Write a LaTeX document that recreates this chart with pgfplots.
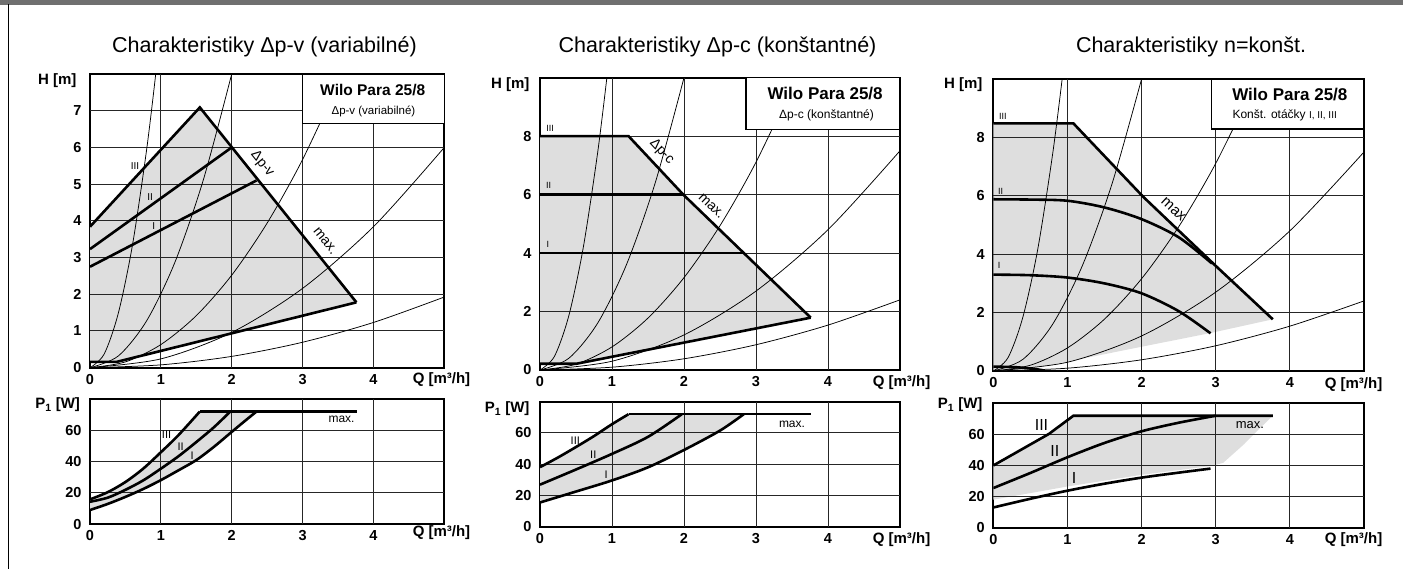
\documentclass[border=0pt]{standalone}
\usepackage{fontspec}
\setmainfont{Liberation Sans}
\usepackage{pgfplots}
\pgfplotsset{compat=1.18}
\definecolor{fillg}{RGB}{222,222,222}
\definecolor{band}{RGB}{112,112,112}
\pgfplotsset{
  base/.style={
    scale only axis, clip mode=individual,
    xmin=0, xmax=5, xtick={0,...,4}, xticklabels={0,1,2,3,4},
    axis line style={line width=1.8pt},
    major tick length=0pt,
    ticklabel style={font=\fontsize{14.5}{15}\selectfont\bfseries},
    yticklabel style={anchor=east, xshift=-5pt},
    xticklabel style={anchor=north, yshift=-3pt},
  },
  sysc/.style={line width=0.75pt, black, smooth},
  thk/.style={line width=2.6pt, black},
  thks/.style={line width=2.6pt, black, smooth},
  fl/.style={fill=fillg, draw=none},
}
\tikzset{gr/.style={line width=1pt, black!85}}
\newcommand{\lab}{\fontsize{15}{15}\selectfont\bfseries}
\newcommand{\vgrid}[1]{\pgfplotsinvokeforeach{1,2,3,4}{\draw[gr] (axis cs:##1,0) -- (axis cs:##1,#1);}}
\begin{document}
\begin{tikzpicture}[x=1pt,y=1pt]
\path[use as bounding box] (0,0) rectangle (1403,569);
\fill[band] (0,564) rectangle (1403,569);
\draw[line width=1pt] (8,0) -- (8,564.5);

% ---------- Panel 1 H ----------
\begin{axis}[base, at={(90pt,201.3pt)}, anchor=south west, width=354.3pt, height=293.7pt,
  ymin=0, ymax=8, ytick={0,...,7}, yticklabels={0,1,2,3,4,5,6,7}]
\addplot[fl] coordinates {(0,0.16)(0,3.84)(1.55,7.09)(3.76,1.78)(0.38,0.16)(0,0.16)};
\vgrid{8}
\pgfplotsinvokeforeach{1,...,7}{\draw[gr] (axis cs:0,#1) -- (axis cs:5,#1);}
\addplot[sysc] coordinates {(0,0)(0.2,0.372)(0.4,1.488)(0.6,3.348)(0.8,5.952)(0.93,8.04)};
\addplot[sysc] coordinates {(0,0)(0.4,0.32)(0.8,1.28)(1.2,2.88)(1.6,5.12)(2.0,8.0)};
\addplot[sysc] coordinates {(0,0)(0.5,0.1575)(1,0.63)(1.5,1.4175)(2,2.52)(2.5,3.94)(3,5.67)(3.56,7.98)};
\addplot[sysc] coordinates {(0,0)(1,0.24)(2,0.96)(3,2.16)(4,3.84)(5,6.0)};
\addplot[sysc] coordinates {(0,0)(1,0.077)(2,0.308)(3,0.693)(4,1.232)(5,1.925)};
\addplot[thk] coordinates {(0,0.16)(0.38,0.16)(3.76,1.78)};
\addplot[thk] coordinates {(0,3.84)(1.55,7.09)(3.76,1.78)};
\addplot[thk] coordinates {(0,3.23)(2,6)};
\addplot[thk] coordinates {(0,2.75)(2.35,5.1)};
\draw[fill=white, line width=1.3pt] (axis cs:3,6.66) rectangle (axis cs:5,8);
\node[font=\fontsize{15.5}{16}\selectfont\bfseries] at (axis cs:3.99,7.56) {Wilo Para 25/8};
\node[font=\fontsize{11.5}{12}\selectfont] at (axis cs:4.0,6.99) {Δp-v (variabilné)};
\node[font=\fontsize{10}{10}\selectfont] at (axis cs:0.635,5.49) {III};
\node[font=\fontsize{10}{10}\selectfont] at (axis cs:0.85,4.66) {II};
\node[font=\fontsize{10}{10}\selectfont] at (axis cs:0.9,3.86) {I};
\node[font=\fontsize{14}{14}\selectfont, rotate=-51] at (axis cs:2.43,5.55) {Δp-v};
\node[font=\fontsize{14}{14}\selectfont, rotate=-51] at (axis cs:3.32,3.45) {max.};
\end{axis}

% ---------- Panel 1 P ----------
\begin{axis}[base, at={(90pt,44.7pt)}, anchor=south west, width=354.3pt, height=125.3pt,
  ymin=0, ymax=80, ytick={0,20,40,60}, yticklabels={0,20,40,60}]
\addplot[fl] coordinates {(0,15.9)(0.25,20.5)(0.5,27)(0.75,35.5)(1,46)(1.25,57)(1.55,72)(2.35,72)(2.2,66.5)(2,59)(1.75,49.5)(1.5,41)(1.25,34.5)(1,28.2)(0.75,22.5)(0.5,17.5)(0.25,13)(0,9.1)};
\vgrid{80}
\pgfplotsinvokeforeach{20,40,60}{\draw[gr] (axis cs:0,#1) -- (axis cs:5,#1);}
\addplot[thks] coordinates {(0,15.9)(0.25,20.5)(0.5,27)(0.75,35.5)(1,46)(1.25,57)(1.55,72)};
\addplot[thks] coordinates {(0,14.4)(0.25,17)(0.5,22)(0.75,28)(1,35.5)(1.25,43.5)(1.5,52.5)(1.75,62)(1.98,72)};
\addplot[thks] coordinates {(0,9.1)(0.25,13)(0.5,17.5)(0.75,22.5)(1,28.2)(1.25,34.5)(1.5,41)(1.75,49.5)(2,59)(2.2,66.5)(2.35,72)};
\addplot[thk] coordinates {(1.55,72)(3.77,72)};
\node[font=\fontsize{11}{11}\selectfont] at (axis cs:1.08,57) {III};
\node[font=\fontsize{11}{11}\selectfont] at (axis cs:1.28,49.4) {II};
\node[font=\fontsize{11}{11}\selectfont] at (axis cs:1.44,44) {I};
\node[font=\fontsize{12}{12}\selectfont] at (axis cs:3.55,66.9) {max.};
\end{axis}

% ---------- Panel 2 H ----------
\begin{axis}[base, at={(540pt,199pt)}, anchor=south west, width=360pt, height=292.3pt,
  ymin=0, ymax=10, ytick={0,2,4,6,8}, yticklabels={0,2,4,6,8}]
\addplot[fl] coordinates {(0,0.215)(0,8)(1.23,8)(1.99,6)(3.76,1.79)(0.51,0.215)(0,0.215)};
\vgrid{10}
\pgfplotsinvokeforeach{2,4,6,8}{\draw[gr] (axis cs:0,#1) -- (axis cs:5,#1);}
\addplot[sysc] coordinates {(0,0)(0.2,0.464)(0.4,1.856)(0.6,4.176)(0.8,7.424)(0.93,10.03)};
\addplot[sysc] coordinates {(0,0)(0.4,0.4)(0.8,1.6)(1.2,3.6)(1.6,6.4)(2.0,10.0)};
\addplot[sysc] coordinates {(0,0)(0.5,0.1975)(1,0.79)(1.5,1.7775)(2,3.16)(2.5,4.9375)(3,7.11)(3.56,10.01)};
\addplot[sysc] coordinates {(0,0)(1,0.3)(2,1.2)(3,2.7)(4,4.8)(5,7.5)};
\addplot[sysc] coordinates {(0,0)(1,0.096)(2,0.384)(3,0.864)(4,1.536)(5,2.4)};
\addplot[thk] coordinates {(0,8)(1.23,8)(1.99,6)(3.76,1.79)};
\addplot[thk] coordinates {(0,6)(1.99,6)};
\addplot[thk] coordinates {(0,4)(2.83,4)};
\addplot[thk] coordinates {(0,0.215)(0.51,0.215)(3.76,1.79)};
\draw[fill=white, line width=1.3pt] (axis cs:2.86,8.23) rectangle (axis cs:5,10);
\node[font=\fontsize{17}{17}\selectfont\bfseries] at (axis cs:3.96,9.47) {Wilo Para 25/8};
\node[font=\fontsize{12}{12}\selectfont] at (axis cs:3.98,8.72) {Δp-c (konštantné)};
\node[font=\fontsize{9}{9}\selectfont] at (axis cs:0.14,8.25) {III};
\node[font=\fontsize{9}{9}\selectfont] at (axis cs:0.12,6.3) {II};
\node[font=\fontsize{9}{9}\selectfont] at (axis cs:0.11,4.3) {I};
\node[font=\fontsize{14}{14}\selectfont, rotate=-47] at (axis cs:1.69,7.47) {Δp-c};
\node[font=\fontsize{14}{14}\selectfont, rotate=-44] at (axis cs:2.38,5.6) {max.};
\end{axis}

% ---------- Panel 2 P ----------
\begin{axis}[base, at={(540pt,42.3pt)}, anchor=south west, width=360pt, height=125pt,
  ymin=0, ymax=80, ytick={0,20,40,60}, yticklabels={0,20,40,60}]
\addplot[fl] coordinates {(0,38.1)(0.25,44.3)(0.5,51)(0.75,58)(1,65.6)(1.23,72)(2.83,72)(2.5,61.5)(2,49.1)(1.5,38)(1,29.6)(0.5,22.5)(0,15.5)};
\vgrid{80}
\pgfplotsinvokeforeach{20,40,60}{\draw[gr] (axis cs:0,#1) -- (axis cs:5,#1);}
\addplot[thks] coordinates {(0,38.1)(0.25,44.3)(0.5,51)(0.75,58)(1,65.6)(1.23,72)};
\addplot[thks] coordinates {(0,26.9)(0.5,36.6)(1,46.6)(1.5,57.5)(1.97,72)};
\addplot[thks] coordinates {(0,15.5)(0.5,22.5)(1,29.6)(1.5,38)(2,49.1)(2.5,61.5)(2.83,72)};
\addplot[thk] coordinates {(1.23,72)(3.77,72)};
\node[font=\fontsize{11}{11}\selectfont] at (axis cs:0.49,55) {III};
\node[font=\fontsize{11}{11}\selectfont] at (axis cs:0.74,46) {II};
\node[font=\fontsize{11}{11}\selectfont] at (axis cs:0.92,33.5) {I};
\node[font=\fontsize{12}{12}\selectfont] at (axis cs:3.5,65.7) {max.};
\end{axis}

% ---------- Panel 3 H ----------
\begin{axis}[base, at={(993.3pt,198pt)}, anchor=south west, width=370.7pt, height=292pt,
  ymin=0, ymax=10, ytick={0,2,4,6,8}, yticklabels={0,2,4,6,8}]
\addplot[fl] coordinates {(0,0)(0,8.48)(1.08,8.48)(2.02,5.97)(3.0,3.6)(3.77,1.77)(2.93,1.3)(2,0.83)(1,0.32)(0.4,0.05)(0,0)};
\vgrid{10}
\pgfplotsinvokeforeach{2,4,6,8}{\draw[gr] (axis cs:0,#1) -- (axis cs:5,#1);}
\addplot[sysc] coordinates {(0,0)(0.2,0.464)(0.4,1.856)(0.6,4.176)(0.8,7.424)(0.93,10.03)};
\addplot[sysc] coordinates {(0,0)(0.4,0.4)(0.8,1.6)(1.2,3.6)(1.6,6.4)(2.0,10.0)};
\addplot[sysc] coordinates {(0,0)(0.5,0.1975)(1,0.79)(1.5,1.7775)(2,3.16)(2.5,4.9375)(3,7.11)(3.56,10.01)};
\addplot[sysc] coordinates {(0,0)(1,0.3)(2,1.2)(3,2.7)(4,4.8)(5,7.5)};
\addplot[sysc] coordinates {(0,0)(1,0.096)(2,0.384)(3,0.864)(4,1.536)(5,2.4)};
\addplot[thk] coordinates {(0,8.48)(1.08,8.48)(2.02,5.97)(3.0,3.6)(3.77,1.77)};
\addplot[thks] coordinates {(0,5.88)(0.5,5.87)(1,5.83)(1.5,5.6)(2,5.2)(2.5,4.58)(2.95,3.68)};
\addplot[thks] coordinates {(0,3.3)(0.5,3.28)(1,3.2)(1.5,3.0)(2,2.66)(2.5,2.05)(2.93,1.29)};
\addplot[thks] coordinates {(0,0.15)(0.3,0.13)(0.55,0.07)(0.68,0.02)};
\draw[fill=white, line width=1.3pt] (axis cs:2.94,8.29) rectangle (axis cs:5,10);
\node[font=\fontsize{17}{17}\selectfont\bfseries] at (axis cs:4.0,9.48) {Wilo Para 25/8};
\node[font=\fontsize{12}{12}\selectfont] at (axis cs:3.93,8.77) {Konšt. otáčky \fontsize{10}{10}\selectfont I, II, III};
\node[font=\fontsize{9}{9}\selectfont] at (axis cs:0.13,8.73) {III};
\node[font=\fontsize{9}{9}\selectfont] at (axis cs:0.1,6.16) {II};
\node[font=\fontsize{9}{9}\selectfont] at (axis cs:0.08,3.6) {I};
\node[font=\fontsize{15}{15}\selectfont, rotate=-43] at (axis cs:2.43,5.53) {max};
\end{axis}

% ---------- Panel 3 P ----------
\begin{axis}[base, at={(993.3pt,41.3pt)}, anchor=south west, width=370.7pt, height=124.4pt,
  ymin=0, ymax=80, ytick={0,20,40,60}, yticklabels={0,20,40,60}]
\addplot[fl] coordinates {(0,40)(0.75,60.3)(1.08,72)(3.77,72)(3.56,62.3)(3.38,53.6)(3.1,41.7)(2.95,39.8)(2,34)(1,26.5)(0,18)(0,40)};
\vgrid{80}
\pgfplotsinvokeforeach{20,40,60}{\draw[gr] (axis cs:0,#1) -- (axis cs:5,#1);}
\addplot[thk] coordinates {(0,40)(0.75,60.3)(1.08,72)(3.77,72)};
\addplot[thks] coordinates {(0,25.5)(0.5,35.2)(1,45.3)(1.5,54.5)(2,62)(2.5,67.5)(3,72)};
\addplot[thks] coordinates {(0,13)(0.5,18.6)(1,23.8)(1.5,28.3)(2,32.2)(2.5,35.4)(2.93,38)};
\node[font=\fontsize{16}{16}\selectfont] at (axis cs:0.65,66) {III};
\node[font=\fontsize{16}{16}\selectfont] at (axis cs:0.83,49.5) {II};
\node[font=\fontsize{16}{16}\selectfont] at (axis cs:1.09,31.8) {I};
\node[font=\fontsize{13}{13}\selectfont] at (axis cs:3.46,66) {max.};
\end{axis}

% ---------- titles and axis labels ----------
\node[font=\fontsize{21.5}{22}\selectfont] at (264.5,522) {Charakteristiky Δp-v (variabilné)};
\node[font=\fontsize{21.5}{22}\selectfont] at (717.5,522) {Charakteristiky Δp-c (konštantné)};
\node[font=\fontsize{21.5}{22}\selectfont] at (1191,522) {Charakteristiky n=konšt.};

\node[font=\lab, anchor=east] at (80,488) {H [m]};
\node[font=\lab, anchor=east] at (83.5,164) {P\textsubscript{1} [W]};
\node[font=\lab] at (441.5,189) {Q [m³/h]};
\node[font=\lab] at (441.5,36) {Q [m³/h]};

\node[font=\lab, anchor=east] at (533,484) {H [m]};
\node[font=\lab, anchor=east] at (533,160) {P\textsubscript{1} [W]};
\node[font=\lab] at (901.5,186) {Q [m³/h]};
\node[font=\lab] at (901.5,29) {Q [m³/h]};

\node[font=\lab, anchor=east] at (986,484) {H [m]};
\node[font=\lab, anchor=east] at (986,164) {P\textsubscript{1} [W]};
\node[font=\lab] at (1353.5,184) {Q [m³/h]};
\node[font=\lab] at (1353.5,29) {Q [m³/h]};
\end{tikzpicture}
\end{document}
